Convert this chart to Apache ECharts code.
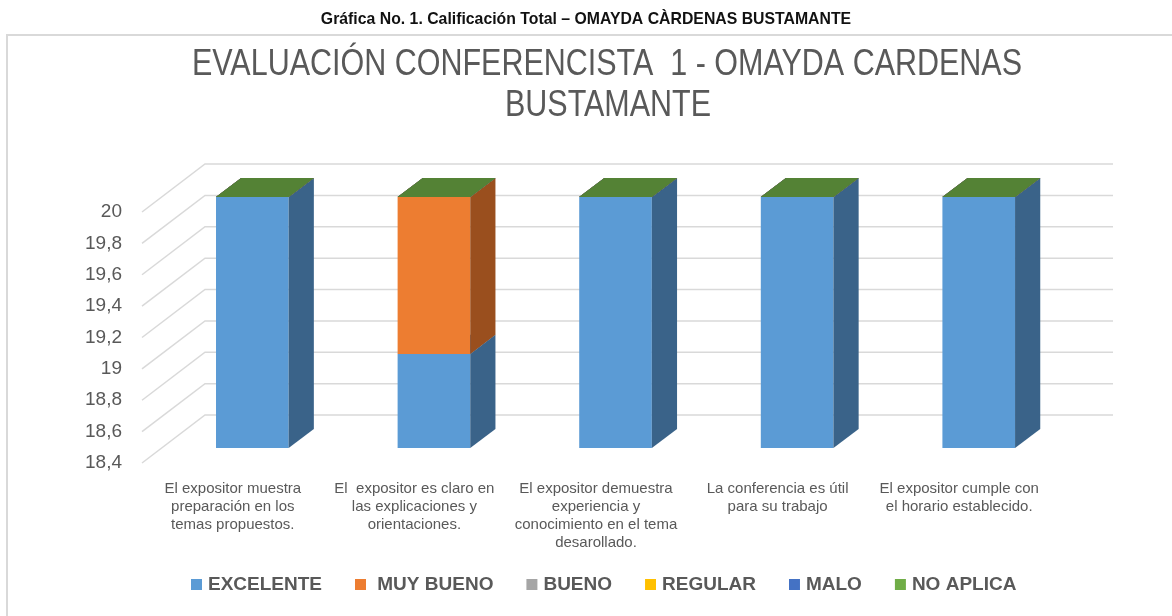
<!DOCTYPE html>
<html><head><meta charset="utf-8">
<script src="https://cdn.jsdelivr.net/npm/echarts@6/dist/echarts.min.js"></script>
<style>html,body{margin:0;padding:0;background:#fff}#c{width:1172px;height:616px}</style>
</head><body><div id="c"></div>
<script>
// ---- data ----
const categories = [
  'El expositor muestra\npreparación en los\ntemas propuestos.',
  'El  expositor es claro en\nlas explicaciones y\norientaciones.',
  'El expositor demuestra\nexperiencia y\nconocimiento en el tema\ndesarollado.',
  'La conferencia es útil\npara su trabajo',
  'El expositor cumple con\nel horario establecido.'
];
const seriesNames = ['EXCELENTE', ' MUY BUENO', 'BUENO', 'REGULAR', 'MALO', 'NO APLICA'];
const excelente = [20, 19, 20, 20, 20];
const muyBueno  = [0, 1, 0, 0, 0];
const bueno     = [0, 0, 0, 0, 0];
const regular   = [0, 0, 0, 0, 0];
const malo      = [0, 0, 0, 0, 0];
const noAplica  = [0, 0, 0, 0, 0];
const yTicks = [18.4, 18.6, 18.8, 19, 19.2, 19.4, 19.6, 19.8, 20];
const yMin = 18.4, yMax = 20, yStep = 0.2;
const headingText = 'Gráfica No. 1. Calificación Total – OMAYDA CÀRDENAS BUSTAMANTE';
const titleLines = ['EVALUACIÓN CONFERENCISTA  1 - OMAYDA CARDENAS', 'BUSTAMANTE'];

// ---- styles ----
const seriesValues = [excelente, muyBueno, bueno, regular, malo, noAplica];
const frontColors = ['#5b9bd5', '#ed7d31', '#a5a5a5', '#ffc000', '#4472c4', '#70ad47'];
const sideColors  = ['#3a6389', '#9a4f1e', '#6b6b6b', '#a67c00', '#2c4a80', '#4a732e'];
const topColors   = ['#41719c', '#b85f23', '#7f7f7f', '#bf9000', '#30548f', '#548235'];
const DX = 63, DY = -48, F0 = 0.31, F1 = 0.71, BAR = 0.40;
const regularFont = "'Liberation Sans',Arial,sans-serif";

function baseOf(k, i) {
  let s = 0;
  for (let j = 0; j < k; j++) s += seriesValues[j][i];
  return s;
}

const barSeries = seriesNames.map((name, k) => ({
  name: name,
  type: 'custom',
  z: 3,
  itemStyle: { color: frontColors[k] },
  data: seriesValues[k].map((v, i) => [i, v]),
  renderItem: function (params, api) {
    const i = api.value(0), v = api.value(1);
    const base = baseOf(k, i);
    const lo = Math.max(base, yMin), hi = Math.max(base + v, yMin);
    const pLo = api.coord([i, lo]), pHi = api.coord([i, hi]);
    const band = api.size([1, 0])[0];
    const bw = band * BAR;
    const x0 = pLo[0] - bw / 2 + F0 * DX, x1 = x0 + bw;
    const yB = pLo[1] + F0 * DY, yT = pHi[1] + F0 * DY;
    const ddx = (F1 - F0) * DX, ddy = (F1 - F0) * DY;
    const children = [];
    if (yB - yT > 0.01) {
      children.push({ type: 'rect', shape: { x: x0, y: yT, width: bw, height: yB - yT }, style: { fill: frontColors[k] } });
      children.push({ type: 'polygon', shape: { points: [[x1, yB], [x1, yT], [x1 + ddx, yT + ddy], [x1 + ddx, yB + ddy]] }, style: { fill: sideColors[k] } });
    }
    children.push({ type: 'polygon', shape: { points: [[x0, yT], [x1, yT], [x1 + ddx, yT + ddy], [x0 + ddx, yT + ddy]] }, style: { fill: topColors[k] } });
    return { type: 'group', children: children };
  }
}));

const gridSeries = {
  name: 'grid',
  type: 'custom',
  silent: true,
  z: 1,
  data: yTicks.map(t => [0, t]),
  renderItem: function (params, api) {
    const cs = params.coordSys;
    const p = api.coord([0, api.value(1)]);
    const yf = p[1];
    return {
      type: 'polyline',
      shape: { points: [[cs.x, yf], [cs.x + DX, yf + DY], [cs.x + cs.width + DX, yf + DY]] },
      style: { stroke: '#d9d9d9', lineWidth: 1.5, fill: 'none' }
    };
  }
};

const chart = echarts.init(document.getElementById('c'));
chart.setOption({
  animation: false,
  backgroundColor: '#fff',
  graphic: [{
    type: 'rect', silent: true, z: 0,
    shape: { x: 7, y: 35, width: 1200, height: 700 },
    style: { fill: 'none', stroke: '#d9d9d9', lineWidth: 2 }
  }, {
    type: 'text', silent: true, x: 586, y: 19, scaleX: 0.93,
    style: { text: headingText, font: "bold 17px 'Liberation Sans',Arial,sans-serif", fill: '#111', align: 'center', verticalAlign: 'middle' }
  }, {
    type: 'text', silent: true, x: 607, y: 65, scaleX: 0.824,
    style: { text: titleLines[0], font: "37px 'Liberation Sans',Arial,sans-serif", fill: '#595959', align: 'center', verticalAlign: 'middle' }
  }, {
    type: 'text', silent: true, x: 608, y: 106, scaleX: 0.824,
    style: { text: titleLines[1], font: "37px 'Liberation Sans',Arial,sans-serif", fill: '#595959', align: 'center', verticalAlign: 'middle' }
  }],
  legend: {
    data: seriesNames,
    left: 186, top: 570,
    icon: 'rect', itemWidth: 11, itemHeight: 11, itemGap: 33,
    textStyle: { fontFamily: regularFont, fontSize: 19, fontWeight: 'bold', color: '#595959', padding: [0, 0, 0, 1] }
  },
  grid: { left: 142, right: 122, top: 212, bottom: 153, containLabel: false },
  xAxis: {
    type: 'category', data: categories,
    axisLine: { show: false }, axisTick: { show: false }, splitLine: { show: false },
    axisLabel: { interval: 0, margin: 17, fontFamily: regularFont, fontSize: 15, lineHeight: 18, color: '#595959', verticalAlign: 'top' }
  },
  yAxis: {
    type: 'value', min: yMin, max: yMax, interval: yStep,
    axisLine: { show: false }, axisTick: { show: false }, splitLine: { show: false },
    axisLabel: {
      margin: 20, fontFamily: regularFont, fontSize: 19, color: '#595959',
      formatter: v => String(Math.round(v * 10) / 10).replace('.', ',')
    }
  },
  series: [gridSeries].concat(barSeries)
});
</script>
</body></html>
